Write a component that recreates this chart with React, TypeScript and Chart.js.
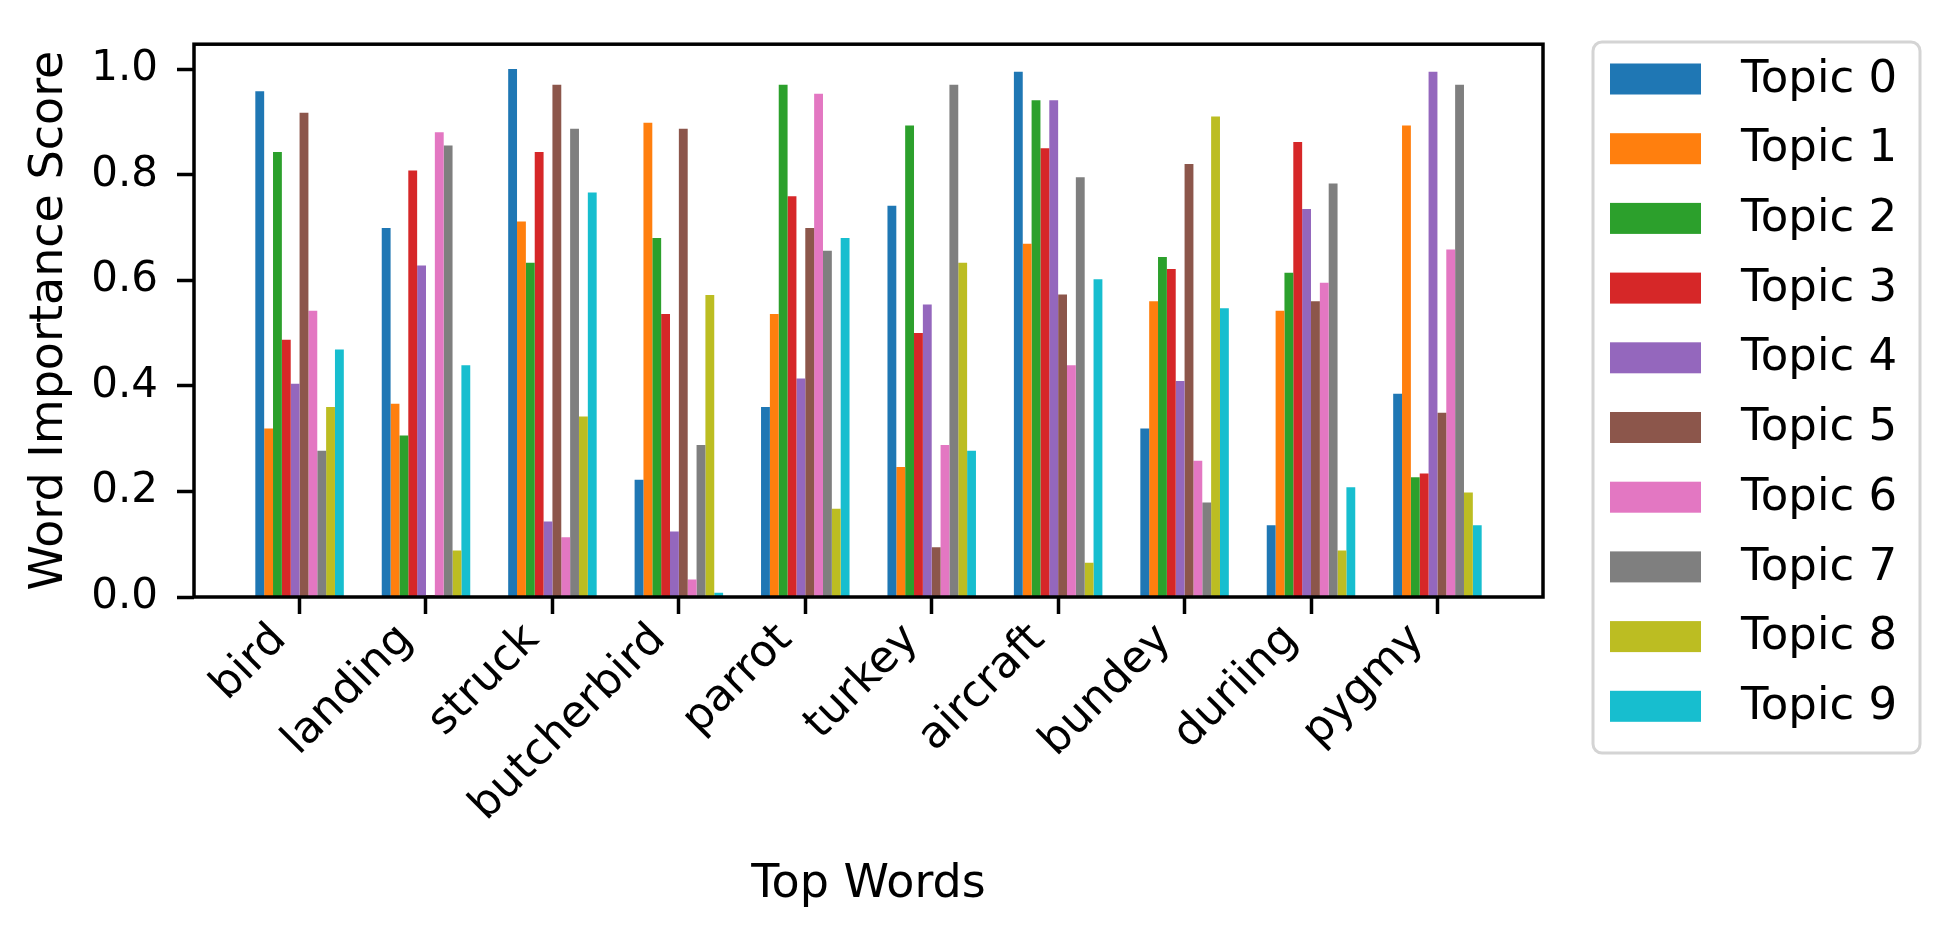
import React, { useEffect, useRef } from "react";
import { Chart, registerables } from "chart.js";

Chart.register(...registerables);

const categories = ["bird", "landing", "struck", "butcherbird", "parrot", "turkey", "aircraft", "bundey", "duriing", "pygmy"];
const topicLabels = ["Topic 0", "Topic 1", "Topic 2", "Topic 3", "Topic 4", "Topic 5", "Topic 6", "Topic 7", "Topic 8", "Topic 9"];
const topicColors = ["#1f77b4", "#ff7f0e", "#2ca02c", "#d62728", "#9467bd", "#8c564b", "#e377c2", "#7f7f7f", "#bcbd22", "#17becf"];

const topic0 = [0.958, 0.699, 1.0, 0.222, 0.36, 0.741, 0.995, 0.319, 0.136, 0.385];
const topic1 = [0.319, 0.366, 0.711, 0.898, 0.536, 0.246, 0.669, 0.56, 0.542, 0.893];
const topic2 = [0.843, 0.306, 0.633, 0.68, 0.97, 0.893, 0.941, 0.644, 0.614, 0.227];
const topic3 = [0.487, 0.808, 0.843, 0.536, 0.759, 0.5, 0.85, 0.621, 0.862, 0.234];
const topic4 = [0.404, 0.628, 0.143, 0.124, 0.414, 0.554, 0.941, 0.409, 0.735, 0.995];
const topic5 = [0.917, 0.004, 0.97, 0.887, 0.699, 0.094, 0.573, 0.82, 0.56, 0.349];
const topic6 = [0.542, 0.88, 0.113, 0.033, 0.953, 0.288, 0.439, 0.258, 0.595, 0.658];
const topic7 = [0.277, 0.855, 0.887, 0.288, 0.656, 0.97, 0.795, 0.179, 0.783, 0.97];
const topic8 = [0.36, 0.088, 0.342, 0.572, 0.167, 0.633, 0.065, 0.91, 0.088, 0.198];
const topic9 = [0.469, 0.439, 0.766, 0.008, 0.68, 0.277, 0.602, 0.547, 0.208, 0.136];

const topicValues = [topic0, topic1, topic2, topic3, topic4, topic5, topic6, topic7, topic8, topic9];
const yTicks = [0, 0.2, 0.4, 0.6, 0.8, 1.0];

const FONT = "'DejaVu Sans', sans-serif";
const W = 1933;
const H = 935;

const framePlugin = {
  id: "frame",
  afterDatasetsDraw(chart: any) {
    const { ctx, chartArea } = chart;
    ctx.save();
    ctx.strokeStyle = "#000";
    ctx.lineWidth = 3.5;
    ctx.strokeRect(chartArea.left, chartArea.top, chartArea.right - chartArea.left, chartArea.bottom - chartArea.top);
    ctx.restore();
  },
};

const boxLegendPlugin = {
  id: "boxLegend",
  afterDraw(chart: any) {
    const ctx = chart.ctx;
    ctx.save();
    const x0 = 1593, y0 = 42, x1 = 1920, y1 = 753;
    ctx.beginPath();
    ctx.roundRect(x0, y0, x1 - x0, y1 - y0, 9);
    ctx.fillStyle = "rgba(255,255,255,0.8)";
    ctx.fill();
    ctx.strokeStyle = "#d4d4d4";
    ctx.lineWidth = 3;
    ctx.stroke();
    ctx.font = `45px ${FONT}`;
    ctx.textBaseline = "middle";
    ctx.textAlign = "left";
    chart.data.datasets.forEach((ds: any, i: number) => {
      const cy = 79 + i * 69.7;
      ctx.fillStyle = ds.backgroundColor;
      ctx.fillRect(1610, cy - 15.5, 91, 31);
      ctx.fillStyle = "#000";
      ctx.fillText(ds.label, 1741, cy + 1);
    });
    ctx.restore();
  },
};

export default function App() {
  const canvasRef = useRef<HTMLCanvasElement | null>(null);

  useEffect(() => {
    if (!canvasRef.current) return;
    Chart.defaults.color = "#000";
    Chart.defaults.font.family = FONT;

    const datasets = topicLabels.map((label, t) => ({
      label,
      data: categories.map((_, i) => ({ x: i, y: topicValues[t][i] })),
      backgroundColor: topicColors[t],
      borderWidth: 0,
      categoryPercentage: 0.7,
      barPercentage: 1.0,
    }));

    const chart = new Chart(canvasRef.current, {
      type: "bar",
      data: { datasets },
      options: {
        animation: false,
        responsive: false,
        devicePixelRatio: 1,
        layout: { padding: { top: 17, right: W - 1543, left: 0, bottom: 0 } },
        plugins: {
          legend: { display: false },
          tooltip: { enabled: false },
        },
        scales: {
          x: {
            type: "linear",
            min: -0.835,
            max: 9.835,
            offset: false,
            afterFit: (scale: any) => {
              scale.height = H - 597;
            },
            afterBuildTicks: (scale: any) => {
              scale.ticks = categories.map((_, i) => ({ value: i }));
            },
            ticks: {
              autoSkip: false,
              minRotation: 45,
              maxRotation: 45,
              padding: 0,
              labelOffset: -20,
              font: { size: 44, family: FONT },
              color: "#000",
              callback: (v: any) => categories[Math.round(Number(v))] ?? "",
            },
            grid: {
              display: true,
              offset: false,
              drawOnChartArea: false,
              drawTicks: true,
              tickLength: 17,
              tickColor: "#000",
              tickWidth: 3.5,
            },
            border: { display: false },
            title: {
              display: true,
              text: "Top Words",
              color: "#000",
              font: { size: 46, family: FONT },
              padding: { top: 0, bottom: 22 },
            },
          },
          y: {
            type: "linear",
            min: 0,
            max: 1.047,
            afterFit: (scale: any) => {
              scale.width = 194;
            },
            afterBuildTicks: (scale: any) => {
              scale.ticks = yTicks.map((v) => ({ value: v }));
            },
            ticks: {
              padding: 19,
              font: { size: 42, family: FONT },
              color: "#000",
              callback: (v: any) => Number(v).toFixed(1),
            },
            grid: {
              display: true,
              offset: false,
              drawOnChartArea: false,
              drawTicks: true,
              tickLength: 17,
              tickColor: "#000",
              tickWidth: 3.5,
            },
            border: { display: false },
            title: {
              display: true,
              text: "Word Importance Score",
              color: "#000",
              font: { size: 46, family: FONT },
              padding: { top: 22, bottom: 0 },
            },
          },
        },
      },
      plugins: [framePlugin, boxLegendPlugin],
    } as any);

    return () => {
      chart.destroy();
    };
  }, []);

  return (
    <div style={{ position: "absolute", left: 0, top: 0, width: W, height: H, background: "#fff" }}>
      <canvas ref={canvasRef} width={W} height={H} style={{ width: W, height: H, display: "block" }} />
    </div>
  );
}
